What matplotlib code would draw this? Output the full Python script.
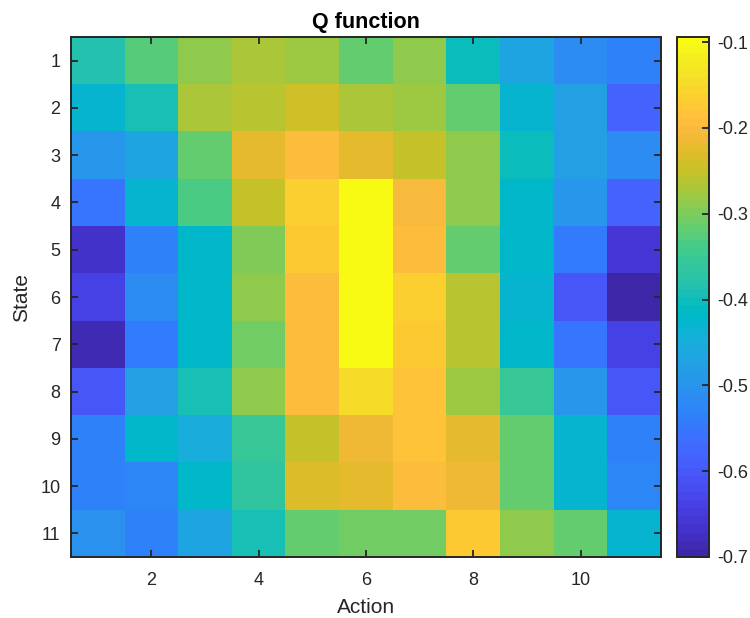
import matplotlib
matplotlib.use("Agg")
import matplotlib.pyplot as plt
import numpy as np
from matplotlib.colors import ListedColormap

# MATLAB parula(64)
PARULA = [
    [0.2422, 0.1504, 0.6603], [0.2504, 0.1650, 0.7076], [0.2578, 0.1818, 0.7511],
    [0.2647, 0.1978, 0.7952], [0.2706, 0.2147, 0.8364], [0.2751, 0.2342, 0.8710],
    [0.2783, 0.2559, 0.8991], [0.2803, 0.2782, 0.9221], [0.2813, 0.3006, 0.9414],
    [0.2810, 0.3228, 0.9579], [0.2795, 0.3447, 0.9717], [0.2760, 0.3667, 0.9829],
    [0.2699, 0.3892, 0.9906], [0.2602, 0.4123, 0.9952], [0.2440, 0.4358, 0.9988],
    [0.2206, 0.4603, 0.9973], [0.1963, 0.4847, 0.9892], [0.1834, 0.5074, 0.9798],
    [0.1786, 0.5289, 0.9682], [0.1764, 0.5499, 0.9520], [0.1687, 0.5703, 0.9359],
    [0.1540, 0.5902, 0.9218], [0.1460, 0.6091, 0.9079], [0.1380, 0.6276, 0.8973],
    [0.1248, 0.6459, 0.8883], [0.1113, 0.6635, 0.8763], [0.0952, 0.6798, 0.8598],
    [0.0689, 0.6948, 0.8394], [0.0297, 0.7082, 0.8163], [0.0036, 0.7203, 0.7917],
    [0.0067, 0.7312, 0.7660], [0.0433, 0.7411, 0.7394], [0.0964, 0.7500, 0.7120],
    [0.1408, 0.7584, 0.6842], [0.1717, 0.7670, 0.6554], [0.1938, 0.7758, 0.6251],
    [0.2161, 0.7843, 0.5923], [0.2470, 0.7918, 0.5567], [0.2906, 0.7973, 0.5188],
    [0.3406, 0.8008, 0.4789], [0.3909, 0.8029, 0.4354], [0.4456, 0.8024, 0.3909],
    [0.5044, 0.7993, 0.3480], [0.5616, 0.7942, 0.3045], [0.6174, 0.7876, 0.2612],
    [0.6720, 0.7793, 0.2227], [0.7242, 0.7698, 0.1910], [0.7738, 0.7598, 0.1646],
    [0.8203, 0.7498, 0.1535], [0.8634, 0.7406, 0.1596], [0.9035, 0.7330, 0.1774],
    [0.9393, 0.7288, 0.2100], [0.9728, 0.7298, 0.2394], [0.9956, 0.7434, 0.2371],
    [0.9970, 0.7659, 0.2199], [0.9952, 0.7893, 0.2028], [0.9892, 0.8136, 0.1885],
    [0.9786, 0.8386, 0.1766], [0.9676, 0.8639, 0.1643], [0.9610, 0.8890, 0.1537],
    [0.9597, 0.9135, 0.1423], [0.9628, 0.9373, 0.1265], [0.9691, 0.9606, 0.1064],
    [0.9769, 0.9839, 0.0805],
]

states = list(range(1, 12))
actions = list(range(1, 12))

# Q values, one list per state (rows), action along columns
q_s1 = [-0.385, -0.330, -0.285, -0.272, -0.276, -0.315, -0.288, -0.400, -0.470, -0.515, -0.535]
q_s2 = [-0.430, -0.395, -0.273, -0.260, -0.245, -0.272, -0.280, -0.318, -0.430, -0.475, -0.585]
q_s3 = [-0.500, -0.465, -0.320, -0.222, -0.190, -0.225, -0.252, -0.285, -0.400, -0.475, -0.515]
q_s4 = [-0.555, -0.430, -0.340, -0.250, -0.165, -0.094, -0.205, -0.288, -0.425, -0.495, -0.585]
q_s5 = [-0.665, -0.535, -0.420, -0.295, -0.170, -0.095, -0.190, -0.315, -0.420, -0.545, -0.660]
q_s6 = [-0.640, -0.515, -0.420, -0.290, -0.190, -0.095, -0.168, -0.262, -0.430, -0.605, -0.700]
q_s7 = [-0.690, -0.540, -0.420, -0.310, -0.190, -0.097, -0.172, -0.262, -0.420, -0.550, -0.640]
q_s8 = [-0.600, -0.475, -0.395, -0.288, -0.198, -0.145, -0.188, -0.276, -0.350, -0.495, -0.600]
q_s9 = [-0.535, -0.425, -0.445, -0.350, -0.250, -0.210, -0.188, -0.222, -0.320, -0.430, -0.535]
q_s10 = [-0.535, -0.525, -0.420, -0.360, -0.233, -0.225, -0.190, -0.215, -0.315, -0.430, -0.525]
q_s11 = [-0.505, -0.535, -0.465, -0.395, -0.318, -0.305, -0.305, -0.175, -0.290, -0.318, -0.430]

x_ticks = [2, 4, 6, 8, 10]
cbar_ticks = [-0.7, -0.6, -0.5, -0.4, -0.3, -0.2, -0.1]

q = np.array([q_s1, q_s2, q_s3, q_s4, q_s5, q_s6, q_s7, q_s8, q_s9, q_s10, q_s11])

plt.rcParams["font.family"] = ["Liberation Sans", "DejaVu Sans"]
dark = "#262626"

fig = plt.figure(figsize=(7.5, 6.18), dpi=100)
ax = fig.add_axes([71 / 750, 1 - 557 / 618, 590 / 750, 520 / 618])
cax = fig.add_axes([677 / 750, 1 - 557 / 618, 32 / 750, 520 / 618])

im = ax.imshow(
    q,
    cmap=ListedColormap(PARULA, name="parula"),
    aspect="auto",
    interpolation="nearest",
    extent=[actions[0] - 0.5, actions[-1] + 0.5, states[-1] + 0.5, states[0] - 0.5],
)

ax.set_xticks(x_ticks)
ax.set_yticks(states)
ax.tick_params(direction="in", top=True, right=True, length=5, width=1.3,
               color=dark, labelcolor=dark, labelsize=13)
ax.tick_params(axis="x", pad=11)
ax.tick_params(axis="y", pad=7.5)
for sp in ax.spines.values():
    sp.set_color(dark)
    sp.set_linewidth(1.4)
ax.set_xlabel("Action", fontsize=15, color=dark, labelpad=6)
ax.set_ylabel("State", fontsize=15, color=dark, labelpad=7)
ax.set_title("Q function", fontsize=15.5, fontweight="bold", color="black", pad=6.5)

cb = fig.colorbar(im, cax=cax)
cb.set_ticks(cbar_ticks)
cb.set_ticklabels([f"{t:g}" for t in cbar_ticks])
cax.tick_params(direction="in", length=5, width=1.3, color=dark, pad=5.8,
                labelcolor=dark, labelsize=13)
cb.outline.set_edgecolor(dark)
cb.outline.set_linewidth(1.4)

fig.savefig("out.png", dpi=100)
